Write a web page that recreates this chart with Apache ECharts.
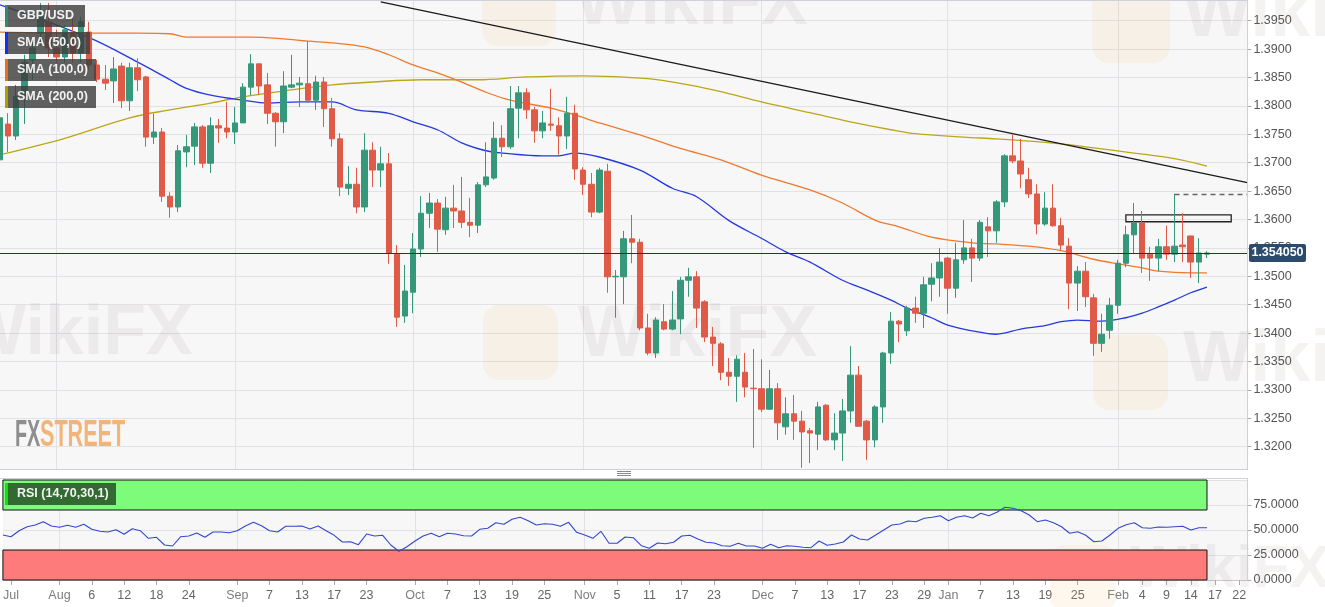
<!DOCTYPE html>
<html><head><meta charset="utf-8">
<script src="https://cdn.jsdelivr.net/npm/echarts@6/dist/echarts.min.js"></script>
<style>html,body{margin:0;padding:0;background:#fff}#c{width:1325px;height:607px}</style>
</head><body><div id="c"></div>
<script>
// trading days shown on the axis
const julDays=[22,23,26,27,28,29,30];
const augDays=[2,3,4,5,6,9,10,11,12,13,16,17,18,19,20,23,24,25,26,27,30,31];
const sepDays=[1,2,3,6,7,8,9,10,13,14,15,16,17,20,21,22,23,24,27,28,29,30];
const octDays=[1,4,5,6,7,8,11,12,13,14,15,18,19,20,21,22,25,26,27,28,29];
const novDays=[1,2,3,4,5,8,9,10,11,12,15,16,17,18,19,22,23,24,25,26,29,30];
const decDays=[1,2,3,6,7,8,9,10,13,14,15,16,17,20,21,22,23,24,27,28,29,30,31];
const janDays=[3,4,5,6,7,10,11,12,13,14,17,18,19,20,21,24,25,26,27,28,31];
const febDays=[1,2,3,4,7,8,9,10,11,14,15,16,17,18,21,22,23];
const categories=[].concat(
  julDays.map(d=>'Jul '+d),augDays.map(d=>'Aug '+d),sepDays.map(d=>'Sep '+d),
  octDays.map(d=>'Oct '+d),novDays.map(d=>'Nov '+d),decDays.map(d=>'Dec '+d),
  janDays.map(d=>'Jan '+d),febDays.map(d=>'Feb '+d));

const tickDates=['Jul 23','Aug 2','Aug 6','Aug 12','Aug 18','Aug 24','Sep 1','Sep 7','Sep 13','Sep 17','Sep 23','Oct 1','Oct 7','Oct 13','Oct 19','Oct 25','Nov 1','Nov 5','Nov 11','Nov 17','Nov 23','Dec 1','Dec 7','Dec 13','Dec 17','Dec 23','Dec 29','Jan 3','Jan 7','Jan 13','Jan 19','Jan 25','Feb 1','Feb 4','Feb 9','Feb 14','Feb 17','Feb 22'];
const tickLabels=['Jul','Aug','6','12','18','24','Sep','7','13','17','23','Oct','7','13','19','25','Nov','5','11','17','23','Dec','7','13','17','23','29','Jan','7','13','19','25','Feb','4','9','14','17','22'];
const monthStarts=['Aug 2','Sep 1','Oct 1','Nov 1','Dec 1','Jan 3','Feb 1'];

const opens=[1.3705,1.3768,1.3747,1.3816,1.3881,1.3928,1.3948,1.3902,1.3886,1.3930,
1.3893,1.3930,1.3872,1.3847,1.3844,1.3870,1.3809,1.3867,1.3851,1.3745,
1.3754,1.3641,1.3622,1.3719,1.3729,1.3763,1.3699,1.3765,1.3761,1.3754,
1.3770,1.3833,1.3874,1.3837,1.3787,1.3772,1.3833,1.3837,1.3839,1.3810,
1.3842,1.3795,1.3742,1.3655,1.3662,1.3622,1.3722,1.3687,1.3698,1.3539,
1.3430,1.3472,1.3548,1.3611,1.3629,1.3582,1.3620,1.3615,1.3595,1.3590,
1.3661,1.3673,1.3743,1.3728,1.3796,1.3823,1.3793,1.3756,1.3768,1.3765,
1.3747,1.3787,1.3687,1.3662,1.3613,1.3685,1.3499,1.3499,1.3566,1.3560,
1.3409,1.3365,1.3420,1.3407,1.3425,1.3493,1.3499,1.3455,1.3393,1.3381,
1.3331,1.3324,1.3331,1.3303,1.3302,1.3266,1.3302,1.3235,1.3258,1.3245,
1.3228,1.3222,1.3273,1.3212,1.3224,1.3263,1.3326,1.3245,1.3212,1.3270,
1.3365,1.3421,1.3404,1.3444,1.3435,1.3486,1.3497,1.3532,1.3479,1.3529,
1.3550,1.3532,1.3587,1.3580,1.3631,1.3712,1.3703,1.3670,1.3645,1.3592,
1.3620,1.3589,1.3553,1.3488,1.3509,1.3462,1.3382,1.3405,1.3449,1.3523,
1.3573,1.3594,1.3539,1.3532,1.3552,1.3539,1.3555,1.3571,1.3525,1.3539];
const closes=[1.3779,1.3747,1.3817,1.3877,1.3902,1.3957,1.3902,1.3886,1.3934,1.3893,
1.3948,1.3872,1.3847,1.3840,1.3865,1.3809,1.3867,1.3846,1.3745,1.3754,
1.3641,1.3622,1.3721,1.3728,1.3763,1.3699,1.3765,1.3761,1.3754,1.3770,
1.3833,1.3874,1.3835,1.3787,1.3772,1.3835,1.3837,1.3840,1.3810,1.3842,
1.3795,1.3742,1.3657,1.3662,1.3622,1.3722,1.3687,1.3698,1.3541,1.3428,
1.3474,1.3548,1.3611,1.3629,1.3583,1.3620,1.3615,1.3595,1.3590,1.3661,
1.3675,1.3743,1.3728,1.3795,1.3823,1.3793,1.3756,1.3770,1.3766,1.3747,
1.3787,1.3689,1.3662,1.3613,1.3687,1.3499,1.3500,1.3566,1.3560,1.3409,
1.3365,1.3423,1.3407,1.3423,1.3493,1.3499,1.3444,1.3393,1.3382,1.3331,
1.3324,1.3354,1.3305,1.3302,1.3266,1.3302,1.3242,1.3258,1.3245,1.3226,
1.3224,1.3270,1.3212,1.3224,1.3263,1.3326,1.3236,1.3212,1.3270,1.3365,
1.3421,1.3416,1.3444,1.3435,1.3485,1.3497,1.3525,1.3479,1.3529,1.3550,
1.3532,1.3595,1.3580,1.3631,1.3712,1.3703,1.3680,1.3645,1.3592,1.3620,
1.3589,1.3555,1.3488,1.3509,1.3464,1.3382,1.3398,1.3449,1.3523,1.3573,
1.3594,1.3532,1.3532,1.3552,1.3539,1.3553,1.3552,1.3525,1.3541,1.3541];
const lows=[1.3696,1.3719,1.3740,1.3768,1.3846,1.3907,1.3886,1.3877,1.3876,1.3876,
1.3876,1.3863,1.3842,1.3828,1.3805,1.3796,1.3791,1.3826,1.3728,1.3733,
1.3631,1.3603,1.3613,1.3692,1.3696,1.3691,1.3682,1.3735,1.3743,1.3733,
1.3770,1.3819,1.3819,1.3768,1.3728,1.3752,1.3831,1.3798,1.3805,1.3793,
1.3763,1.3728,1.3641,1.3643,1.3611,1.3613,1.3657,1.3657,1.3522,1.3411,
1.3418,1.3435,1.3534,1.3585,1.3543,1.3573,1.3585,1.3585,1.3569,1.3576,
1.3657,1.3670,1.3710,1.3724,1.3743,1.3777,1.3735,1.3743,1.3756,1.3714,
1.3724,1.3670,1.3643,1.3604,1.3611,1.3471,1.3427,1.3451,1.3523,1.3405,
1.3361,1.3356,1.3405,1.3405,1.3398,1.3464,1.3409,1.3384,1.3342,1.3317,
1.3307,1.3279,1.3287,1.3198,1.3261,1.3265,1.3212,1.3221,1.3212,1.3163,
1.3171,1.3194,1.3210,1.3194,1.3175,1.3242,1.3236,1.3177,1.3199,1.3242,
1.3346,1.3384,1.3395,1.3418,1.3409,1.3456,1.3464,1.3434,1.3462,1.3522,
1.3490,1.3527,1.3534,1.3559,1.3622,1.3699,1.3655,1.3638,1.3574,1.3589,
1.3587,1.3546,1.3442,1.3439,1.3446,1.3360,1.3367,1.3390,1.3434,1.3516,
1.3541,1.3506,1.3492,1.3509,1.3529,1.3525,1.3525,1.3497,1.3488,1.3532];
const highs=[1.3793,1.3787,1.3837,1.3890,1.3916,1.3981,1.3981,1.3934,1.3942,1.3957,
1.3957,1.3948,1.3881,1.3872,1.3886,1.3876,1.3876,1.3884,1.3853,1.3786,
1.3761,1.3648,1.3731,1.3749,1.3770,1.3766,1.3780,1.3777,1.3807,1.3798,
1.3840,1.3891,1.3874,1.3858,1.3789,1.3861,1.3890,1.3851,1.3914,1.3853,
1.3851,1.3814,1.3752,1.3694,1.3691,1.3752,1.3736,1.3728,1.3717,1.3555,
1.3520,1.3576,1.3641,1.3647,1.3636,1.3640,1.3661,1.3675,1.3638,1.3666,
1.3736,1.3772,1.3766,1.3835,1.3835,1.3831,1.3798,1.3791,1.3830,1.3780,
1.3816,1.3802,1.3692,1.3682,1.3691,1.3698,1.3511,1.3580,1.3608,1.3566,
1.3434,1.3428,1.3451,1.3474,1.3499,1.3515,1.3509,1.3458,1.3411,1.3384,
1.3356,1.3361,1.3365,1.3372,1.3354,1.3335,1.3312,1.3287,1.3291,1.3263,
1.3233,1.3279,1.3275,1.3259,1.3284,1.3377,1.3342,1.3247,1.3273,1.3367,
1.3437,1.3423,1.3448,1.3464,1.3499,1.3523,1.3550,1.3534,1.3559,1.3599,
1.3566,1.3599,1.3604,1.3634,1.3715,1.3749,1.3742,1.3691,1.3662,1.3648,
1.3662,1.3603,1.3567,1.3518,1.3525,1.3469,1.3434,1.3462,1.3529,1.3589,
1.3629,1.3615,1.3552,1.3566,1.3589,1.3645,1.3611,1.3571,1.3567,1.3544];

// moving averages read at sample candles: [candle index, value]
const sma50=[[0,1.3978],[11,1.3920],[17,1.3877],[21,1.3846],[23,1.3831],[26,1.3819],[30,1.3810],[33,1.3805],[37,1.3807],[41,1.3807],[44,1.3793],[48,1.3787],[51,1.3772],[54,1.3758],[57,1.3735],[60,1.3721],[62,1.3717],[67,1.3712],[69,1.3712],[71,1.3717],[74,1.3710],[79,1.3687],[83,1.3655],[86,1.3640],[90,1.3598],[94,1.3567],[97,1.3543],[100,1.3525],[104,1.3493],[107,1.3476],[110,1.3458],[112,1.3444],[115,1.3427],[117,1.3414],[120,1.3404],[123,1.3398],[126,1.3407],[129,1.3413],[131,1.3420],[133,1.3423],[136,1.3421],[139,1.3427],[141,1.3435],[143,1.3446],[145,1.3458],[147,1.3471],[149,1.3481]];
const sma100=[[0,1.3930],[11,1.3928],[17,1.3928],[21,1.3927],[23,1.3921],[28,1.3921],[31,1.3921],[35,1.3918],[38,1.3914],[41,1.3911],[45,1.3904],[48,1.3890],[51,1.3872],[54,1.3858],[57,1.3842],[60,1.3824],[63,1.3810],[68,1.3796],[71,1.3784],[74,1.3770],[79,1.3749],[84,1.3725],[89,1.3705],[94,1.3678],[100,1.3652],[104,1.3629],[108,1.3599],[111,1.3587],[115,1.3569],[120,1.3559],[123,1.3557],[127,1.3553],[131,1.3545],[135,1.3530],[138,1.3522],[141,1.3515],[143,1.3509],[147,1.3506],[149,1.3506]];
const sma200=[[0,1.3714],[8,1.3743],[16,1.3779],[21,1.3793],[26,1.3805],[30,1.3816],[36,1.3828],[41,1.3837],[46,1.3842],[52,1.3846],[59,1.3846],[65,1.3851],[72,1.3853],[80,1.3848],[85,1.3837],[89,1.3825],[94,1.3807],[100,1.3788],[105,1.3772],[110,1.3758],[113,1.3751],[119,1.3745],[123,1.3742],[127,1.3738],[131,1.3733],[135,1.3726],[140,1.3717],[145,1.3707],[149,1.3694]];

const rsi=[45,43.3,49.3,53.3,55,58.3,54,52.7,54.7,52.7,
55.7,50.7,48.7,48,50.3,45.7,51.3,49.3,41.7,42.7,
35,34,43.3,44,47,42.7,48,48,47.3,49.3,
54,57.7,54.3,49.3,48,53.7,53.7,54,51,54,
49.3,44.7,38,38.3,35.3,46,44,44.7,35,28.7,
33.3,39,44,46.7,43.3,46.7,46,44.3,44,50.7,
51.7,57.3,55.7,60.7,62.7,59.3,55,56.3,55.7,53.7,
57.7,47.7,45,41.7,48.7,36.7,36.7,43,42.3,34.3,
31.7,37,36.3,37.7,44,44.7,41,37.7,37,34.3,
33.7,36.7,34,34,31.7,35.7,32.3,34.3,33.7,32.7,
32.3,39,34.7,36,38,45,41,40,45,50,
55,56,59,58.3,61.7,62.7,64.3,59.3,62.7,64.3,
62,66.7,64.3,67.7,72.7,71.7,69.3,65,58.3,60,
57.3,53.3,46.7,48.3,44.7,38.3,39,45,51.7,55.3,
57.3,52.3,51.7,53,52.7,53.3,53.7,50,52.3,52.3];

const lastPrice=1.354050;
const trendStart=[47,1.3983], trendEnd=[154,1.3665];
const resistance=1.3645, resistanceFrom=145;
const boxFrom=139, boxTo=152, boxTop=1.3608, boxBottom=1.3596;
const rsiHigh=70, rsiLow=30;
const priceMin=1.3150, priceMax=1.39864, priceStep=0.005;

const UP='#35987a', DOWN='#df5a47';
const candles=opens.map((o,i)=>[o,closes[i],lows[i],highs[i]]);
const pairs=a=>a.map(([i,v])=>[categories[i],v]);
const tickMap={}; tickDates.forEach((d,k)=>tickMap[d]=tickLabels[k]);
const monthSet=new Set(monthStarts);
const lastIdx=opens.length-1;
const endCat=categories[categories.length-1];
const FONT='"Liberation Sans", Arial, sans-serif';

const chart=echarts.init(document.getElementById('c'),null,{renderer:'canvas'});
const wm=(x,y,s)=>({type:'text',x:x,y:y,z:1,silent:true,style:{text:'WikiFX',font:'bold '+s+'px '+FONT,fill:'rgba(140,110,110,0.09)'}});
const wmIcon=(x,y,s)=>({type:'rect',x:x,y:y,z:1,silent:true,shape:{width:s,height:s,r:s*0.22},style:{fill:'rgba(235,190,110,0.12)'}});
const legendBox=(y,w,bar,txt)=>[
 {type:'rect',x:5,y:y,z:100,shape:{width:w,height:22},style:{fill:'rgba(62,62,62,0.82)'}},
 {type:'rect',x:5,y:y,z:101,shape:{width:3,height:22},style:{fill:bar}},
 {type:'text',x:17,y:y+11,z:102,style:{text:txt,font:'bold 12.5px '+FONT,fill:'#f2f2f2',textVerticalAlign:'middle',verticalAlign:'middle'}}
];

const option={
 animation:false,
 backgroundColor:'#ffffff',
 textStyle:{fontFamily:FONT},
 grid:[
  {left:0,top:0,width:1247.4,height:475.1,show:true,backgroundColor:'#f7f7f8',borderWidth:0},
  {left:0,top:480,width:1247.4,height:100,show:true,backgroundColor:'#f7f7f8',borderWidth:0}
 ],
 xAxis:[
  {type:'category',gridIndex:0,data:categories,boundaryGap:false,
   axisLine:{show:false},axisTick:{show:false},axisLabel:{show:false},
   splitLine:{show:true,interval:(i)=>monthSet.has(categories[i]),lineStyle:{color:'#e1e1e6',width:1}}},
  {type:'category',gridIndex:1,data:categories,boundaryGap:false,
   axisLine:{show:true,lineStyle:{color:'#c9c9cf'}},
   axisTick:{show:true,interval:(i)=>tickMap[categories[i]]!==undefined,length:5,lineStyle:{color:'#aaaaaa'}},
   axisLabel:{interval:(i)=>tickMap[categories[i]]!==undefined,margin:9,fontSize:12.5,color:'#666',
     formatter:(v)=>{const t=tickMap[v]; if(t===undefined) return ''; return /^[A-Z]/.test(t)?'{m|'+t+'}':t;},
     rich:{m:{color:'#7d7d7d',fontSize:12.5}}},
   splitLine:{show:true,interval:(i)=>monthSet.has(categories[i]),lineStyle:{color:'#e1e1e6',width:1}}}
 ],
 yAxis:[
  {type:'value',gridIndex:0,position:'right',min:priceMin,max:priceMax,interval:priceStep,
   axisLine:{show:false},axisTick:{show:true,length:4,lineStyle:{color:'#aaaaaa'}},
   axisLabel:{formatter:v=>v.toFixed(4),color:'#555',fontSize:12.5,margin:6,showMinLabel:false,showMaxLabel:false},
   splitLine:{show:true,lineStyle:{color:'#e1e1e6'}}},
  {type:'value',gridIndex:1,position:'right',min:0,max:100,interval:25,
   axisLine:{show:false},axisTick:{show:true,length:4,lineStyle:{color:'#aaaaaa'}},
   axisLabel:{formatter:v=>v.toFixed(4),color:'#555',fontSize:12.5,margin:6,showMaxLabel:false},
   splitLine:{show:true,lineStyle:{color:'#e1e1e6'}}}
 ],
 series:[
  {name:'SMA (200,0)',type:'line',xAxisIndex:0,yAxisIndex:0,data:pairs(sma200),smooth:0.35,symbol:'none',z:2,
   lineStyle:{color:'#bda616',width:1.3}},
  {name:'SMA (100,0)',type:'line',xAxisIndex:0,yAxisIndex:0,data:pairs(sma100),smooth:0.35,symbol:'none',z:2,
   lineStyle:{color:'#ee7a2c',width:1.3}},
  {name:'SMA (50,0)',type:'line',xAxisIndex:0,yAxisIndex:0,data:pairs(sma50),smooth:0.35,symbol:'none',z:2,
   lineStyle:{color:'#2438df',width:1.3}},
  {name:'GBP/USD',type:'candlestick',xAxisIndex:0,yAxisIndex:0,data:candles,barWidth:6,z:3,
   itemStyle:{color:UP,color0:DOWN,borderColor:UP,borderColor0:DOWN,borderWidth:1},
   markLine:{silent:true,symbol:'none',label:{show:false},animation:false,
    data:[
     [{coord:[categories[trendStart[0]],trendStart[1]],lineStyle:{color:'#1a1a1a',width:1.3,type:'solid'}},{coord:[categories[trendEnd[0]],trendEnd[1]]}],
     [{coord:[categories[resistanceFrom],resistance],lineStyle:{color:'#666',width:1.4,type:[5,4]}},{coord:[endCat,resistance]}],
     [{coord:[categories[0],lastPrice],lineStyle:{color:'#1f3556',width:1.2,type:'solid'}},{coord:[endCat,lastPrice]}]
    ]},
   markArea:{silent:true,itemStyle:{color:'rgba(255,255,255,0.15)',borderColor:'#222',borderWidth:1.3},
    data:[[{coord:[categories[boxFrom],boxTop]},{coord:[categories[boxTo],boxBottom]}]]}
  },
  {name:'RSI (14,70,30,1)',type:'line',xAxisIndex:1,yAxisIndex:1,data:rsi,symbol:'none',z:4,
   lineStyle:{color:'#3347cc',width:1.1},
   markArea:{silent:true,
    data:[
     [{coord:[categories[0],rsiHigh],itemStyle:{color:'#7dfb7b',borderColor:'#111',borderWidth:1}},{coord:[categories[lastIdx],100]}],
     [{coord:[categories[0],0],itemStyle:{color:'#fd7b7b',borderColor:'#111',borderWidth:1}},{coord:[categories[lastIdx],rsiLow]}]
    ]}}
 ],
 graphic:[].concat(
  [wmIcon(482,-28,74),wm(575,-30,70),wm(-40,300,70),wmIcon(483,305,75),wm(578,300,72),
   wmIcon(1092,-15,78),wm(1183,-20,72),wmIcon(1093,335,75),wm(1183,325,72),wmIcon(1050,545,66),wm(1130,540,60)],
  legendBox(5,80,'#2e8b6f','GBP/USD'),
  legendBox(32,85,'#1a2cf2','SMA (50,0)'),
  legendBox(59,91,'#e6701c','SMA (100,0)'),
  legendBox(86,91,'#b39c00','SMA (200,0)'),
  [
   {type:'rect',x:5,y:483,z:100,shape:{width:111,height:22},style:{fill:'rgba(40,85,40,0.88)'}},
   {type:'rect',x:5,y:483,z:101,shape:{width:3,height:22},style:{fill:'#12e012'}},
   {type:'text',x:17,y:494,z:102,style:{text:'RSI (14,70,30,1)',font:'bold 12.5px '+FONT,fill:'#f2f2f2',verticalAlign:'middle',textVerticalAlign:'middle'}},
   {type:'text',x:15,y:436,z:5,scaleX:0.55,originX:0,originY:0,style:{text:'FX',font:'bold 36px '+FONT,fill:'#8e8e8e',verticalAlign:'middle',textVerticalAlign:'middle'}},
   {type:'text',x:40,y:436,z:5,scaleX:0.6,originX:0,originY:0,style:{text:'STREET',font:'bold 36px '+FONT,fill:'#f1b57a',verticalAlign:'middle',textVerticalAlign:'middle'}},
   {type:'rect',x:0,y:469.5,z:90,shape:{width:1325,height:8.5},style:{fill:'#ffffff'}},
   {type:'line',z:91,shape:{x1:0,y1:469.5,x2:1248,y2:469.5},style:{stroke:'#cfd0d8',lineWidth:1}},
   {type:'line',z:91,shape:{x1:0,y1:478.5,x2:1248,y2:478.5},style:{stroke:'#cfd0d8',lineWidth:1}},
   {type:'line',z:91,shape:{x1:1247.5,y1:0,x2:1247.5,y2:469.5},style:{stroke:'#cfd0d8',lineWidth:1}},
   {type:'line',z:91,shape:{x1:1247.5,y1:478.5,x2:1247.5,y2:580.5},style:{stroke:'#cfd0d8',lineWidth:1}},
   {type:'line',z:91,shape:{x1:0,y1:0.5,x2:1248,y2:0.5},style:{stroke:'#cfd0d8',lineWidth:1}},
   {type:'line',z:92,shape:{x1:617,y1:471.5,x2:631,y2:471.5},style:{stroke:'#888',lineWidth:1}},
   {type:'line',z:92,shape:{x1:617,y1:473.5,x2:631,y2:473.5},style:{stroke:'#888',lineWidth:1}},
   {type:'line',z:92,shape:{x1:617,y1:475.5,x2:631,y2:475.5},style:{stroke:'#888',lineWidth:1}},
   {type:'rect',x:1249,y:244,z:100,shape:{width:57,height:18,r:2},style:{fill:'#2b4a6e'}},
   {type:'text',x:1277.5,y:253,z:101,style:{text:lastPrice.toFixed(6),font:'bold 12.5px '+FONT,fill:'#ffffff',align:'center',textAlign:'center',verticalAlign:'middle',textVerticalAlign:'middle'}}
  ]
 )
};
chart.setOption(option);
</script></body></html>
